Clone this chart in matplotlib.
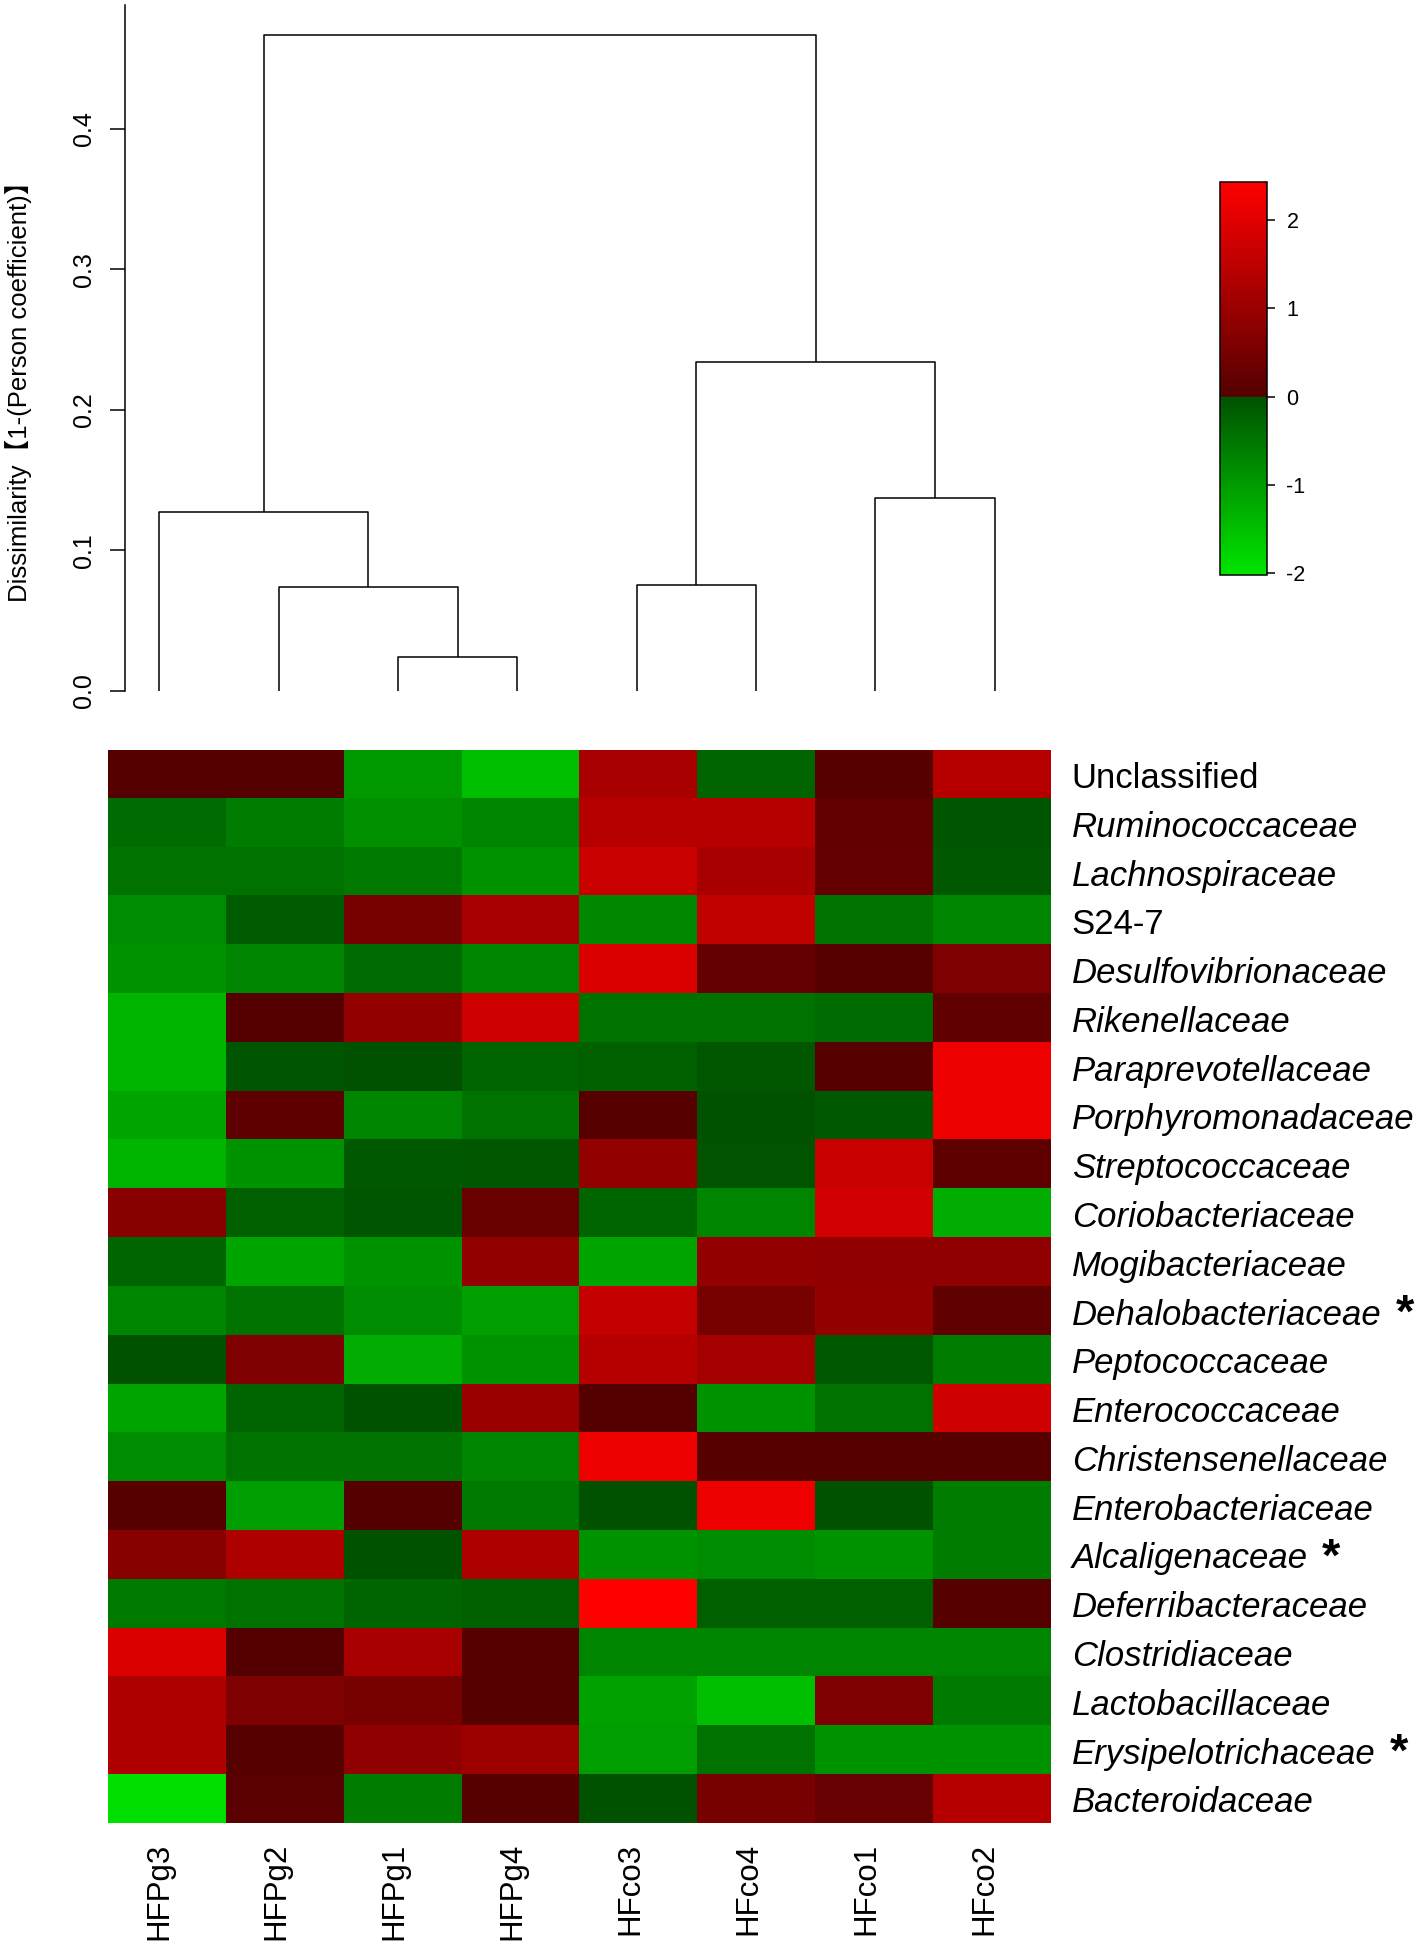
import numpy as np
import matplotlib
matplotlib.use("Agg")
import matplotlib.pyplot as plt
import matplotlib.transforms as mtransforms
from matplotlib.colors import LinearSegmentedColormap, Normalize

plt.rcParams["font.family"] = ["Liberation Sans", "Noto Sans CJK SC"]
plt.rcParams["axes.unicode_minus"] = False

# ── data ──────────────────────────────────────────────────────────────────────
samples = ["HFPg3", "HFPg2", "HFPg1", "HFPg4", "HFco3", "HFco4", "HFco1", "HFco2"]

families = [
    "Unclassified", "Ruminococcaceae", "Lachnospiraceae", "S24-7",
    "Desulfovibrionaceae", "Rikenellaceae", "Paraprevotellaceae",
    "Porphyromonadaceae", "Streptococcaceae", "Coriobacteriaceae",
    "Mogibacteriaceae", "Dehalobacteriaceae", "Peptococcaceae",
    "Enterococcaceae", "Christensenellaceae", "Enterobacteriaceae",
    "Alcaligenaceae", "Deferribacteraceae", "Clostridiaceae",
    "Lactobacillaceae", "Erysipelotrichaceae", "Bacteroidaceae",
]
not_italic = ["Unclassified", "S24-7"]
significant = ["Dehalobacteriaceae", "Alcaligenaceae", "Erysipelotrichaceae"]

# z-scores, rows follow `families`, columns follow `samples`
zscores = [
    [0.02, 0.02, -1.00, -1.50, 1.20, -0.25, 0.05, 1.40],
    [-0.35, -0.60, -0.85, -0.70, 1.40, 1.40, 0.20, -0.05],
    [-0.45, -0.45, -0.55, -0.90, 1.65, 1.20, 0.25, -0.10],
    [-0.80, -0.15, 0.50, 1.20, -0.75, 1.55, -0.45, -0.70],
    [-0.90, -0.70, -0.35, -0.70, 1.90, 0.25, 0.05, 0.60],
    [-1.35, 0.02, 0.90, 1.75, -0.45, -0.45, -0.35, 0.18],
    [-1.35, -0.05, -0.01, -0.25, -0.20, -0.08, 0.05, 2.20],
    [-1.15, 0.15, -0.70, -0.45, 0.05, -0.02, -0.10, 2.20],
    [-1.35, -0.90, -0.10, -0.08, 0.90, -0.03, 1.65, 0.15],
    [0.75, -0.20, -0.05, 0.30, -0.25, -0.70, 1.80, -1.25],
    [-0.25, -1.15, -0.90, 0.90, -1.15, 0.90, 0.85, 0.85],
    [-0.70, -0.45, -0.80, -1.05, 1.60, 0.50, 0.90, 0.18],
    [-0.02, 0.60, -1.25, -0.90, 1.40, 1.15, -0.10, -0.60],
    [-1.15, -0.25, -0.02, 1.00, 0.01, -0.90, -0.45, 1.75],
    [-0.80, -0.45, -0.45, -0.70, 2.20, 0.05, 0.05, 0.05],
    [0.05, -1.05, 0.01, -0.55, -0.02, 2.20, -0.02, -0.60],
    [0.75, 1.30, -0.01, 1.30, -0.90, -0.80, -0.90, -0.60],
    [-0.55, -0.45, -0.25, -0.20, 2.40, -0.20, -0.20, 0.05],
    [1.90, 0.02, 1.20, 0.05, -0.70, -0.70, -0.70, -0.70],
    [1.30, 0.60, 0.50, 0.05, -1.10, -1.50, 0.60, -0.55],
    [1.30, 0.05, 0.85, 1.05, -1.05, -0.45, -0.90, -0.90],
    [-1.95, 0.10, -0.60, 0.05, -0.02, 0.50, 0.28, 1.40],
]

# hierarchical clustering of samples: (node, left, right, height)
clusters = [
    ("c1", "HFPg1", "HFPg4", 0.024),
    ("c2", "HFPg2", "c1", 0.074),
    ("c3", "HFco3", "HFco4", 0.075),
    ("c4", "HFPg3", "c2", 0.127),
    ("c5", "HFco1", "HFco2", 0.137),
    ("c6", "c3", "c5", 0.234),
    ("c7", "c4", "c6", 0.467),
]

# ── figure ────────────────────────────────────────────────────────────────────
W, H = 1421, 1943
fig = plt.figure(figsize=(W / 100, H / 100), dpi=100)


def px_axes(x0, y0, x1, y1):
    return fig.add_axes([x0 / W, 1 - y1 / H, (x1 - x0) / W, (y1 - y0) / H])


# red / green colour scale, break at 0
VMIN, VMAX = -2.02, 2.43
f0 = -VMIN / (VMAX - VMIN)
cmap = LinearSegmentedColormap.from_list(
    "gr",
    [(0.0, (0.0, 0.90, 0.0)), (f0, (0.0, 0.32, 0.0)),
     (f0 + 1e-4, (0.33, 0.0, 0.0)), (1.0, (1.0, 0.0, 0.0))],
    N=512,
)
norm = Normalize(VMIN, VMAX)

# ── heatmap ───────────────────────────────────────────────────────────────────
ax = px_axes(108, 750, 1051, 1823)
im = ax.imshow(np.array(zscores), cmap=cmap, norm=norm, aspect="auto",
               interpolation="nearest")
for s in ax.spines.values():
    s.set_visible(False)
ax.set_yticks([])
ax.set_xticks(range(len(samples)))
ax.set_xticklabels(samples, rotation=90, fontsize=22.5, va="top")
ax.tick_params(axis="x", length=0, pad=14)
shift = mtransforms.ScaledTranslation(-8 / 100, 0, fig.dpi_scale_trans)
for lab in ax.get_xticklabels():
    lab.set_transform(lab.get_transform() + shift)

for i, name in enumerate(families):
    style = "normal" if name in not_italic else "italic"
    t = ax.annotate(name, xy=(1, i), xycoords=ax.get_yaxis_transform(),
                    xytext=(15, -3), textcoords="offset points",
                    va="center", ha="left", fontsize=25, fontstyle=style)
    if name in significant:
        ax.annotate("*", xy=(1, 0.5), xycoords=t, xytext=(10, 0),
                    textcoords="offset points", va="center", ha="left",
                    fontsize=34, fontweight="bold")

# ── dendrogram ────────────────────────────────────────────────────────────────
axd = px_axes(125, 5.5, 1051, 690.5)
xpos = {s: i for i, s in enumerate(samples)}
ypos = {s: 0.0 for s in samples}
for node, left, right, h in clusters:
    xl, xr = xpos[left], xpos[right]
    axd.plot([xl, xl, xr, xr], [ypos[left], h, h, ypos[right]],
             color="black", linewidth=1.1, solid_capstyle="butt")
    xpos[node] = (xl + xr) / 2
    ypos[node] = h

axd.set_xlim(-0.288, 7.473)
axd.set_ylim(0, 0.488)
for side in ["top", "right", "bottom"]:
    axd.spines[side].set_visible(False)
axd.spines["left"].set_linewidth(1.1)
axd.set_xticks([])
axd.set_yticks([0, 0.1, 0.2, 0.3, 0.4])
axd.set_yticklabels(["0.0", "0.1", "0.2", "0.3", "0.4"], rotation=90,
                    va="center", fontsize=18)
axd.tick_params(axis="y", length=11, width=1.1, pad=10)
fig.text(19 / W, 1 - 385 / H, "Dissimilarity【1-(Person coefficient)】",
         rotation=90, ha="center", va="center", fontsize=18.5)

# ── colour key ────────────────────────────────────────────────────────────────
cax = px_axes(1220, 182, 1267, 575)
cb = fig.colorbar(im, cax=cax, ticks=[-2, -1, 0, 1, 2])
cb.outline.set_linewidth(1.1)
cb.ax.tick_params(length=6, width=1.1, labelsize=15.5, pad=8)

fig.savefig("out.png", dpi=100)
